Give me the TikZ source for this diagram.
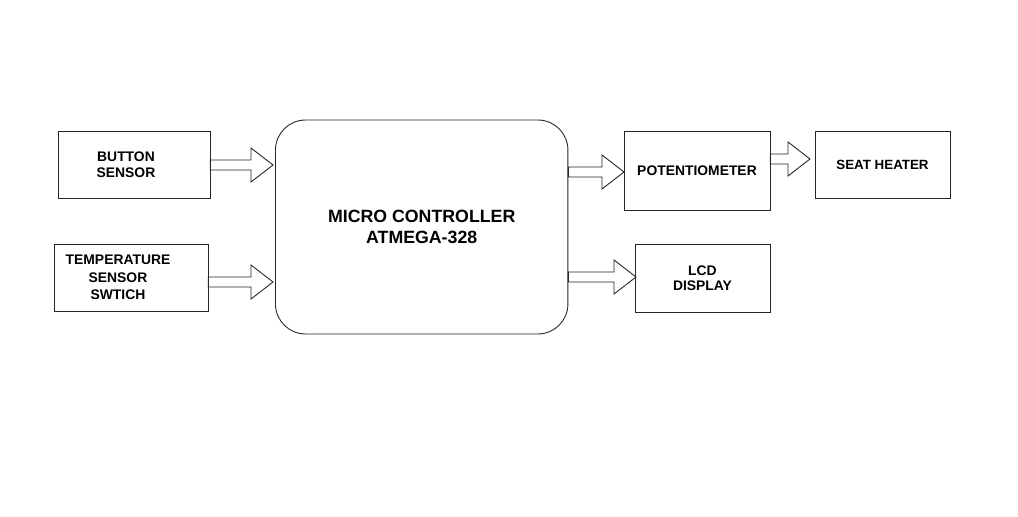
\documentclass[tikz,border=0pt]{standalone}
\usepackage{fontspec}
\setmainfont{Liberation Sans}
\usetikzlibrary{calc}

\tikzset{
	box/.style={draw=black!85, rectangle, line width=0.5pt, inner sep=0pt, align=center, font=\fontsize{7.9}{8.8}\selectfont\bfseries},
	txt/.style={inner sep=0pt, align=center, font=\fontsize{7.9}{8.8}\selectfont\bfseries},
	blockarrow/.style={draw=black!85, fill=white, line width=0.5pt, line join=miter},
}

% fat arrow from a node side to a tip point
\newcommand{\fatarrow}[2]{%
	\draw[blockarrow] ($(#1 |- #2)+(0,-5)$) -- ($(#2)+(-22,-5)$) -- ($(#2)+(-22,-17)$) -- (#2)
		-- ($(#2)+(-22,17)$) -- ($(#2)+(-22,5)$) -- ($(#1 |- #2)+(0,5)$) -- cycle;}

\begin{document}
\begin{tikzpicture}[x=0.02cm, y=-0.02cm]
	\useasboundingbox (0,0) rectangle (1018,517);

	\node[box, minimum width=3.04cm, minimum height=1.34cm] (btn) at (134,164.5) {};
	\node[txt] (btn-txt) at (126,164.5) {BUTTON\\SENSOR};
	\node[box, minimum width=3.08cm, minimum height=1.34cm] (temp) at (131,277.5) {};
	\node[txt, font=\fontsize{7.9}{10}\selectfont\bfseries] (temp-txt) at (118,277.5) {TEMPERATURE\\SENSOR\\SWTICH};
	\node[box, rounded corners=0.6cm, minimum width=5.85cm, minimum height=4.28cm,
		font=\fontsize{10.1}{12.3}\selectfont\bfseries] (mcu) at (421.7,227) {MICRO CONTROLLER\\ATMEGA-328};
	\node[box, minimum width=2.92cm, minimum height=1.58cm] (pot) at (697,170.5) {POTENTIOMETER};
	\node[box, minimum width=2.7cm, minimum height=1.34cm, font=\fontsize{7.6}{8.8}\selectfont\bfseries] (seat) at (882.5,164.5) {SEAT HEATER};
	\node[box, minimum width=2.7cm, minimum height=1.36cm, font=\fontsize{7.9}{8.5}\selectfont\bfseries] (lcd) at (702.5,278) {LCD\\DISPLAY};

	\coordinate (t-btn) at (273,165);
	\coordinate (t-temp) at (273,282);
	\coordinate (t-pot) at (624,172);
	\coordinate (t-seat) at (810,159);
	\coordinate (t-lcd) at (636,277);

	\fatarrow{btn.east}{t-btn}
	\fatarrow{temp.east}{t-temp}
	\fatarrow{mcu.east}{t-pot}
	\fatarrow{pot.east}{t-seat}
	\fatarrow{mcu.east}{t-lcd}
\end{tikzpicture}
\end{document}
